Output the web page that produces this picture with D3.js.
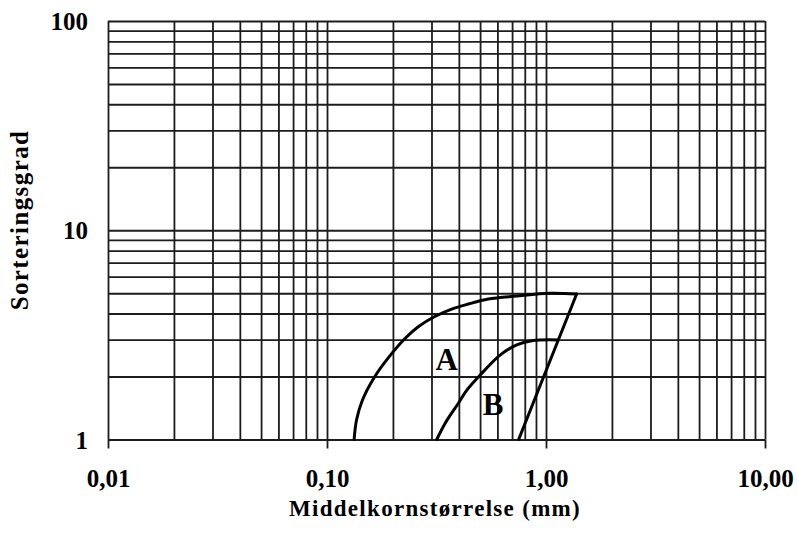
<!DOCTYPE html>
<html>
<head>
<meta charset="utf-8">
<script src="https://cdn.jsdelivr.net/npm/d3@7"></script>
<style>
  html, body { margin: 0; padding: 0; background: #fff; }
  svg { display: block; }
  text { font-family: "Liberation Serif", "Times New Roman", serif; font-weight: bold; fill: #000; }
</style>
</head>
<body>
<svg id="chart" width="797" height="540"></svg>
<script>
// Axis extents and labels (log–log diagram)
const xDomain = [0.01, 10];
const yDomain = [1, 100];
const xTickValues = [0.01, 0.1, 1, 10];
const xTickLabels = ["0,01", "0,10", "1,00", "10,00"];
const yTickValues = [1, 10, 100];
const yTickLabels = ["1", "10", "100"];
const xTitle = "Middelkornstørrelse  (mm)";
const yTitle = "Sorteringsgrad";

// Field A: outer curve (mean grain size vs. sorting)
const curveA_x = [0.133, 0.1364, 0.1452, 0.1648, 0.190, 0.2271, 0.2611, 0.309, 0.371, 0.442, 0.545, 0.735, 1.04, 1.38];
const curveA_y = [1.0, 1.239, 1.544, 1.99, 2.45, 3.04, 3.46, 3.86, 4.20, 4.44, 4.69, 4.85, 5.0, 4.96];
// Field B: inner curve
const curveB_x = [0.317, 0.347, 0.398, 0.435, 0.50, 0.617, 0.735, 0.875, 1.14];
const curveB_y = [1.0, 1.20, 1.49, 1.72, 2.03, 2.53, 2.83, 2.97, 2.99];
// Straight right-hand boundary closing both fields
const edge_x = [1.38, 0.75];
const edge_y = [4.96, 1.0];
// Field labels
const fieldNames = ["A", "B"];
const fieldLabel_x = [0.352, 0.573];
const fieldLabel_y = [2.15, 1.31];

// Grid: every integer multiple within each decade
const xGrid = [];
for (let e = -2; e <= 0; e++) for (let k = 1; k <= 9; k++) xGrid.push(+(k * Math.pow(10, e)).toPrecision(3));
xGrid.push(10);
const yGrid = [];
for (let e = 0; e <= 1; e++) for (let k = 1; k <= 9; k++) yGrid.push(k * Math.pow(10, e));
yGrid.push(100);

const margin = { left: 108, top: 21, right: 32, bottom: 100.5 };
const W = 797, H = 540;
const w = W - margin.left - margin.right;
const h = H - margin.top - margin.bottom;

const svg = d3.select("#chart");
const g = svg.append("g").attr("transform", `translate(${margin.left},${margin.top})`);

const x = d3.scaleLog().domain(xDomain).range([0, w]);
const y = d3.scaleLog().domain(yDomain).range([h, 0]);

const gridColor = "#1c1c1c";

// Vertical grid lines
const gx = g.append("g")
  .attr("transform", `translate(0,${h})`)
  .call(d3.axisBottom(x).tickValues(xGrid).tickSize(-h).tickFormat(""));
gx.select(".domain").remove();
gx.selectAll(".tick line").attr("stroke", gridColor).attr("stroke-width", 1.8);

// Horizontal grid lines
const gy = g.append("g")
  .call(d3.axisLeft(y).tickValues(yGrid).tickSize(-w).tickFormat(""));
gy.select(".domain").remove();
gy.selectAll(".tick line").attr("stroke", gridColor).attr("stroke-width", 1.8);

// Bottom axis: decade ticks and labels
const ax = g.append("g")
  .attr("transform", `translate(0,${h})`)
  .call(d3.axisBottom(x).tickValues(xTickValues).tickSize(9).tickPadding(21)
    .tickFormat((d, i) => xTickLabels[i]));
ax.select(".domain").remove();
ax.selectAll(".tick line").attr("stroke", gridColor).attr("stroke-width", 1.8);
ax.selectAll(".tick text").attr("font-size", 25).attr("fill", "#000");

// Left axis: decade labels
const ay = g.append("g")
  .call(d3.axisLeft(y).tickValues(yTickValues).tickSize(0).tickPadding(20)
    .tickFormat((d, i) => yTickLabels[i]));
ay.select(".domain").remove();
ay.selectAll(".tick text").attr("font-size", 25).attr("fill", "#000").attr("dy", "0.34em");

// Curves
const line = d3.line().x(d => x(d[0])).y(d => y(d[1])).curve(d3.curveCatmullRom.alpha(0.5));
const straight = d3.line().x(d => x(d[0])).y(d => y(d[1]));

g.append("path")
  .datum(curveA_x.map((v, i) => [v, curveA_y[i]]))
  .attr("d", line).attr("fill", "none").attr("stroke", "#000").attr("stroke-width", 3)
  .attr("stroke-linecap", "round").attr("stroke-linejoin", "round");
g.append("path")
  .datum(curveB_x.map((v, i) => [v, curveB_y[i]]))
  .attr("d", line).attr("fill", "none").attr("stroke", "#000").attr("stroke-width", 3)
  .attr("stroke-linecap", "round");
g.append("path")
  .datum(edge_x.map((v, i) => [v, edge_y[i]]))
  .attr("d", straight).attr("fill", "none").attr("stroke", "#000").attr("stroke-width", 3)
  .attr("stroke-linecap", "round");

// Field labels
g.selectAll(".field")
  .data(fieldNames)
  .join("text")
  .attr("class", "field")
  .attr("x", (d, i) => x(fieldLabel_x[i]))
  .attr("y", (d, i) => y(fieldLabel_y[i]))
  .attr("text-anchor", "middle")
  .attr("font-size", 31)
  .text(d => d);

// Axis titles
svg.append("text")
  .attr("x", 435).attr("y", 516)
  .attr("text-anchor", "middle")
  .attr("font-size", 23)
  .attr("letter-spacing", "1.3px")
  .text(xTitle);

svg.append("text")
  .attr("transform", "translate(28,220) rotate(-90)")
  .attr("text-anchor", "middle")
  .attr("font-size", 25)
  .attr("letter-spacing", "1.4px")
  .text(yTitle);
</script>
</body>
</html>
